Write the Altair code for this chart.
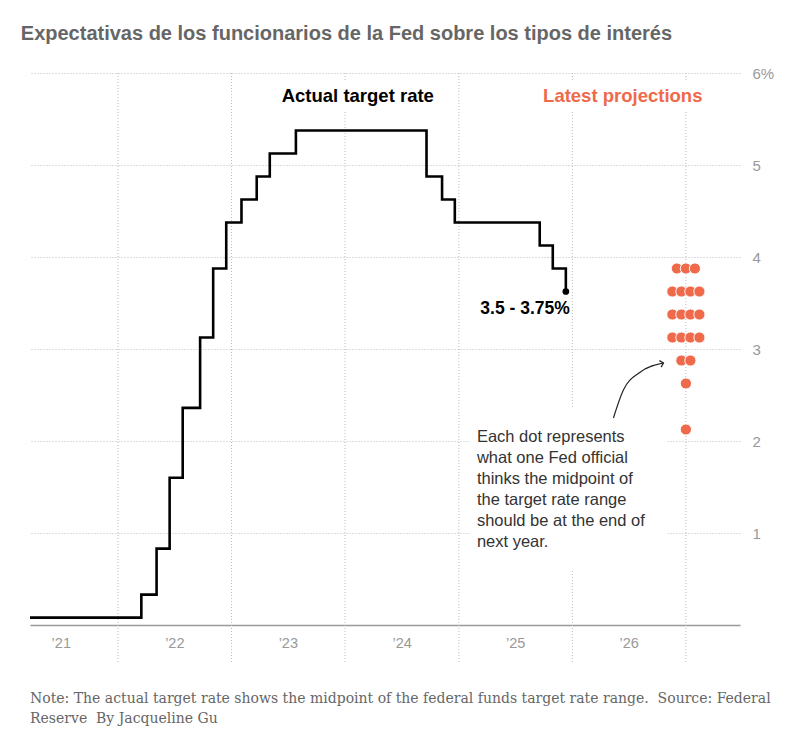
import altair as alt
import pandas as pd

# ---------------- data ----------------
rate_dates = ["2021-03-24", "2022-03-17", "2022-05-05", "2022-06-16", "2022-07-28",
              "2022-09-22", "2022-11-03", "2022-12-15", "2023-02-02", "2023-03-23",
              "2023-05-04", "2023-07-27", "2024-09-19", "2024-11-08", "2024-12-19",
              "2025-09-18", "2025-10-30", "2025-12-11"]
rate_mid = [0.08, 0.33, 0.83, 1.6, 2.36, 3.125, 3.875, 4.375, 4.625, 4.875,
            5.125, 5.375, 4.875, 4.625, 4.375, 4.125, 3.875, 3.625]

proj_date = "2027-01-01"          # end of next year (2026)
proj_levels = [3.875, 3.625, 3.375, 3.125, 2.875, 2.625, 2.125]
proj_counts = [3, 4, 4, 4, 2, 1, 1]

grid_years = ["2022-01-01", "2023-01-01", "2024-01-01", "2025-01-01", "2026-01-01", "2027-01-01"]
label_years = [2021, 2022, 2023, 2024, 2025, 2026]
y_ticks = [1, 2, 3, 4, 5, 6]

title_text = "Expectativas de los funcionarios de la Fed sobre los tipos de interés"
note_text = ("Note: The actual target rate shows the midpoint of the federal funds target rate range.\u00a0 Source: Federal\n"
             "Reserve\u00a0 By Jacqueline Gu")
annot_text = ("Each dot represents\nwhat one Fed official\nthinks the midpoint of\n"
              "the target rate range\nshould be at the end of\nnext year.")

# annotation anchors (date, value)
labels = pd.DataFrame({
    "date": ["2024-02-11", "2026-06-12"],
    "value": [5.75, 5.75],
    "text": ["Actual target rate", "Latest projections"],
    "kind": ["actual", "proj"],
})
boxes = pd.DataFrame({
    "x": ["2023-05-20", "2025-09-18", "2025-02-06"],
    "x2": ["2024-11-07", "2027-03-02", "2026-11-03"],
    "y": [5.92, 5.92, 2.36],
    "y2": [5.58, 5.58, 0.60],
})
arrow = pd.DataFrame({
    "date": ["2026-05-13", "2026-06-14", "2026-08-08", "2026-10-21"],
    "value": [2.25, 2.554, 2.75, 2.848],
})

# ---------------- frames ----------------
rates = pd.DataFrame({"date": rate_dates, "value": rate_mid})
last = rates.tail(1)

DOT_SPACING_DAYS = 29  # horizontal spacing between side-by-side dots
rows = []
for lvl, n in zip(proj_levels, proj_counts):
    for i in range(n):
        off = i - (n - 1) / 2
        d = pd.Timestamp(proj_date) + pd.Timedelta(days=off * DOT_SPACING_DAYS)
        rows.append({"date": d.strftime("%Y-%m-%dT%H:%M:%SZ"), "value": lvl})
proj = pd.DataFrame(rows)

grid = pd.DataFrame({"date": grid_years})

W, H = 710, 552
CORAL = "#EF6A4B"
SANS = "Liberation Sans"

x_scale = alt.Scale(domain=[alt.DateTime(year=2021, month=3, date=24, utc=True),
                            alt.DateTime(year=2027, month=6, date=24, utc=True)])
y_scale = alt.Scale(domain=[0, 6], nice=False, zero=True)

x_axis = alt.Axis(values=[alt.DateTime(year=y, month=7, date=1, utc=True) for y in label_years],
                  labelExpr="'\u2019' + utcFormat(datum.value, '%y')",
                  ticks=False, grid=False, domainColor="#999", domainWidth=1.5,
                  labelColor="#999", labelFontSize=14.5, labelFont=SANS, labelPadding=11,
                  title=None)
y_axis = alt.Axis(orient="right", values=y_ticks,
                  labelExpr="datum.value == 6 ? '6%' : datum.label",
                  grid=True, gridDash=[1, 2], gridColor="#bbb", gridWidth=1,
                  ticks=False, domain=False, labelColor="#999", labelFontSize=15,
                  labelFont=SANS, labelPadding=12, labelAlign="left", title=None)


def X(field):
    return alt.X(field, type="temporal", scale=x_scale, axis=x_axis)


def Y(field):
    return alt.Y(field, type="quantitative", scale=y_scale, axis=y_axis)


vgrid = alt.Chart(grid).mark_rule(color="#bbb", strokeDash=[1, 2], strokeWidth=1).encode(
    x=X("date"), y=alt.value(0), y2=alt.value(H + 37))

white = alt.Chart(boxes).mark_rect(color="white").encode(
    x=X("x"), x2="x2", y=Y("y"), y2="y2")

step = alt.Chart(rates).mark_line(interpolate="step-after", color="black",
                                  strokeWidth=2.6, strokeJoin="miter").encode(
    x=X("date"), y=Y("value"))

end_dot = alt.Chart(last).mark_circle(color="black", size=45, opacity=1).encode(
    x=X("date"), y=Y("value"))

end_label = alt.Chart(last).mark_text(text="3.5 - 3.75%", align="right", baseline="middle",
                                      fontSize=17.5, fontWeight="bold", font=SANS,
                                      color="black", dx=4, dy=17).encode(
    x=X("date"), y=Y("value"))

dots = alt.Chart(proj).mark_circle(size=125, color=CORAL, opacity=1,
                                   stroke="white", strokeWidth=1).encode(
    x=X("date"), y=Y("value"))

top_labels = alt.Chart(labels).mark_text(align="center", baseline="middle", fontSize=18.5,
                                         fontWeight="bold", font=SANS).encode(
    x=X("date"), y=Y("value"), text="text:N",
    color=alt.Color("kind:N", scale=alt.Scale(domain=["actual", "proj"], range=["black", CORAL]),
                    legend=None))

annot = alt.Chart(pd.DataFrame({"date": ["2025-02-28"], "value": [2.13]})).mark_text(
    text=annot_text, lineBreak="\n", lineHeight=21, align="left", baseline="top",
    fontSize=16.5, font=SANS, color="#333").encode(x=X("date"), y=Y("value"))

arrow_line = alt.Chart(arrow).mark_line(interpolate="monotone", color="#222", strokeWidth=1.2).encode(
    x=X("date"), y=Y("value"))

arrow_head = alt.Chart(arrow.tail(1)).mark_point(shape="M-1,-1L0,0L-1,1", filled=False,
                                                  color="#222", strokeWidth=1.2, size=45,
                                                  angle=345, opacity=1).encode(
    x=X("date"), y=Y("value"))

note = alt.Chart(pd.DataFrame({"t": [note_text]})).mark_text(
    lineBreak="\n", lineHeight=20, align="left", baseline="middle",
    fontSize=14, font="DejaVu Serif", color="#666").encode(
    x=alt.value(0), y=alt.value(H + 74), text="t:N")

chart = alt.layer(vgrid, white, step, end_dot, end_label, dots, top_labels, annot,
                  arrow_line, arrow_head, note).properties(
    width=W, height=H,
    title=alt.TitleParams(title_text, anchor="start", fontSize=20, fontWeight="bold",
                          color="#666", font="Liberation Sans",
                          offset=6, baseline="alphabetic", dx=-4),
    autosize="none",
    padding={"left": 22, "top": 65, "right": 50, "bottom": 110},
    background="white",
).configure_view(stroke=None)

chart.save("out.html", embed_options={"renderer": "svg", "actions": False})
